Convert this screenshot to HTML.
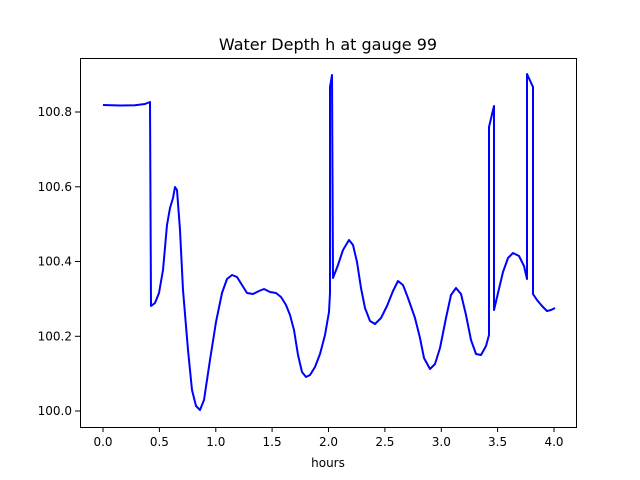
<!DOCTYPE html>
<html><head><style>body{margin:0;background:#fff}svg{display:block}</style></head><body>
<svg width="640" height="480" xmlns="http://www.w3.org/2000/svg" font-family="DejaVu Sans, Liberation Sans, sans-serif">
<rect width="640" height="480" fill="#fff"/>
<text x="328" y="50" font-size="16" text-anchor="middle">Water Depth h at gauge 99</text>
<polyline fill="none" stroke="#0000ff" stroke-width="2" stroke-linejoin="round" points="103,105 120,105.5 135,105.3 145,104 150,102 151,306 155,303 159,293 163,270 167,225 170,208 173,198 175,187 177,190 180,230 183,290 188,350 192,390 196,406 200,410 204,400 210,360 216,322 222,293 227,279 232,275 237,277 242,285 247,293 253,294 259,291 264,289 270,292 276,293 281,297 286,305 290,315 294,330 298,355 302,372 306,377 310,375 315,367 320,354 325,335 329,312 330,293 330,87 332,75 333,278 338,265 343,250 349,240 353,245 357,262 361,288 365,308 370,321 375,324 381,318 387,306 393,291 398,281 403,285 408,298 415,318 420,338 424,358 430,369 435,364 440,348 446,318 451,295 456,288 461,294 466,315 471,340 476,354 481,355 486,346 489,335 489,127 494,106 494,310 498,293 503,272 508,258 513,253 519,256 524,266 527,279 527,74 533,87 533,294 537,300 542,306 547,311 551,310 555,308"/>
<rect x="80.5" y="58.5" width="496" height="369" fill="none" stroke="#000" stroke-width="1"/>
<g stroke="#000" stroke-width="1">
<line x1="103" y1="427" x2="103" y2="432"/><line x1="159.4" y1="427" x2="159.4" y2="432"/><line x1="215.8" y1="427" x2="215.8" y2="432"/><line x1="272.1" y1="427" x2="272.1" y2="432"/><line x1="328.5" y1="427" x2="328.5" y2="432"/><line x1="384.9" y1="427" x2="384.9" y2="432"/><line x1="441.3" y1="427" x2="441.3" y2="432"/><line x1="497.6" y1="427" x2="497.6" y2="432"/><line x1="554" y1="427" x2="554" y2="432"/>
<line x1="75" y1="411" x2="80" y2="411"/><line x1="75" y1="336.3" x2="80" y2="336.3"/><line x1="75" y1="261.5" x2="80" y2="261.5"/><line x1="75" y1="186.8" x2="80" y2="186.8"/><line x1="75" y1="112" x2="80" y2="112"/>
</g>
<g font-size="12" text-anchor="middle">
<text x="103" y="446">0.0</text><text x="159.4" y="446">0.5</text><text x="215.8" y="446">1.0</text><text x="272.1" y="446">1.5</text><text x="328.5" y="446">2.0</text><text x="384.9" y="446">2.5</text><text x="441.3" y="446">3.0</text><text x="497.6" y="446">3.5</text><text x="554" y="446">4.0</text>
<text x="328" y="467">hours</text>
</g>
<g font-size="12" text-anchor="end">
<text x="72" y="415">100.0</text><text x="72" y="340.3">100.2</text><text x="72" y="265.5">100.4</text><text x="72" y="190.8">100.6</text><text x="72" y="116">100.8</text>
</g>
</svg>
</body></html>
